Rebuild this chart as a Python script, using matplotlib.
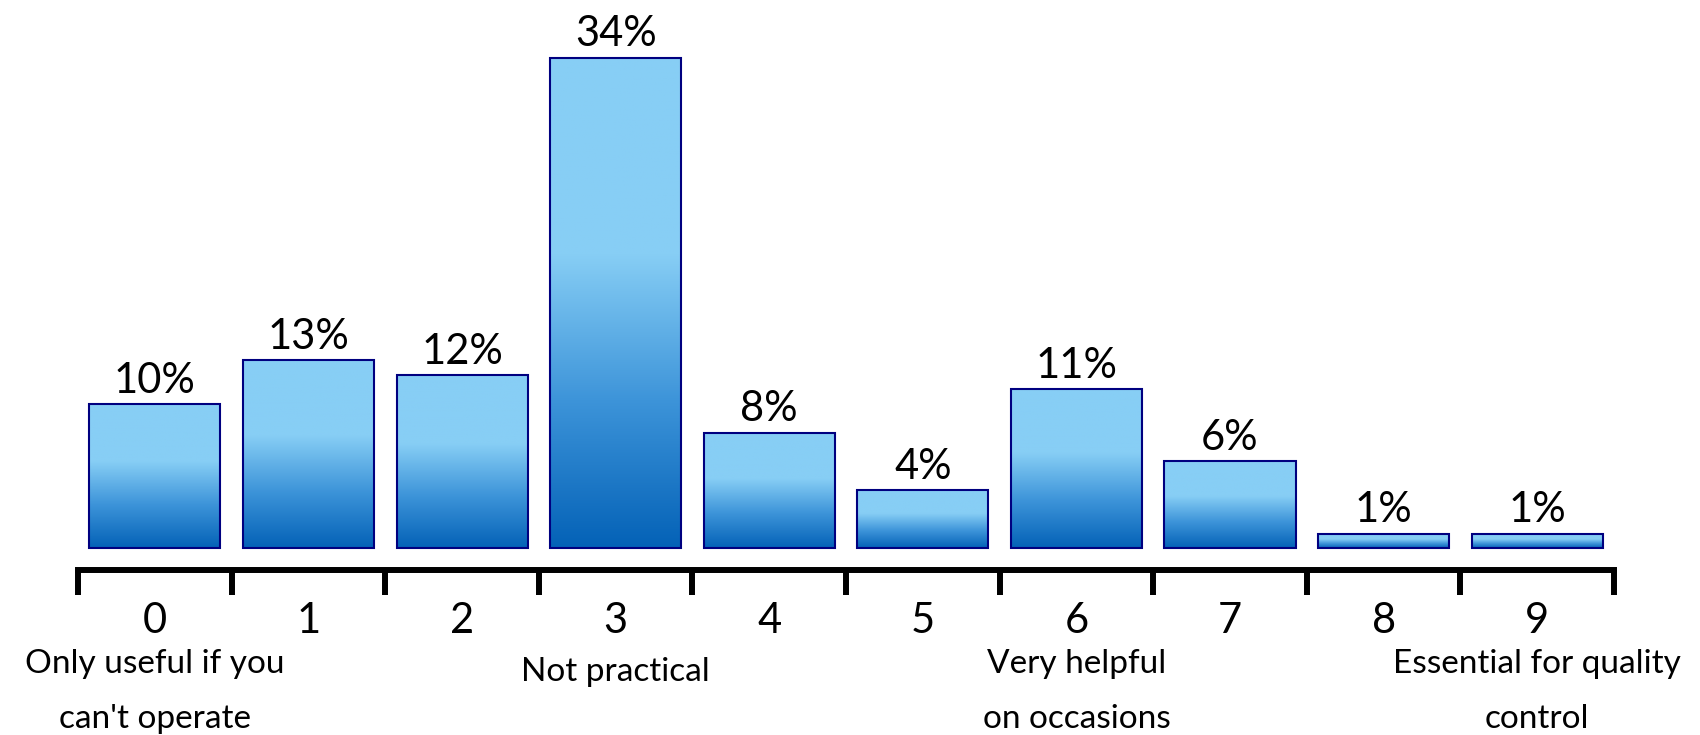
import numpy as np
import matplotlib.pyplot as plt
from matplotlib import transforms
from matplotlib.colors import LinearSegmentedColormap

plt.rcParams['font.family'] = ['Lato', 'DejaVu Sans']

# data
categories = ['0', '1', '2', '3', '4', '5', '6', '7', '8', '9']
shares = [10, 13, 12, 34, 8, 4, 11, 6, 1, 1]
pct_labels = [f"{v}%" for v in shares]

# scale descriptions shown under some of the categories
desc_index = [0, 3, 6, 9]
desc_lines = [
    ["Only useful if you", "can't operate"],
    ["Not practical"],
    ["Very helpful", "on occasions"],
    ["Essential for quality", "control"],
]

fig = plt.figure(figsize=(17, 7.35), dpi=100)
ax = fig.add_axes([0.0459, 0.2245, 0.9035, 0.7483])

x = np.arange(len(categories))
bars = ax.bar(x, shares, width=0.853, facecolor='none', edgecolor='#000080',
              linewidth=1.5, zorder=3)

# vertical gradient fill, dark at the bottom of each bar
cmap = LinearSegmentedColormap.from_list(
    'bar_grad', [(0, '#0462b7'), (0.3, '#3d94d9'), (0.6, '#87cef5'), (1, '#87cef5')])
grad = np.linspace(0, 1, 256).reshape(-1, 1)
for p in bars.patches:
    ax.imshow(grad, cmap=cmap, origin='lower', aspect='auto', zorder=2,
              extent=(p.get_x(), p.get_x() + p.get_width(),
                      p.get_y(), p.get_y() + p.get_height()))

ax.bar_label(bars, labels=pct_labels, padding=3, fontsize=30)

ax.set_xlim(-0.5, 9.5)
ax.set_ylim(-1.52, 36.6)

for side in ['left', 'top', 'right']:
    ax.spines[side].set_visible(False)
ax.spines['bottom'].set_linewidth(4.3)
ax.spines['bottom'].set_color('black')

# category numbers as major ticks, boundaries as minor ticks
ax.set_xticks(x)
ax.set_xticklabels(categories)
ax.set_xticks(np.arange(-0.5, 10, 1), minor=True)
ax.tick_params(axis='x', which='major', length=0, pad=23, labelsize=30)
ax.tick_params(axis='x', which='minor', length=18, width=4.3, color='black')
ax.tick_params(axis='y', left=False, labelleft=False)

trans = transforms.blended_transform_factory(ax.transData, ax.transAxes)
line_y = [[-0.187, -0.287], [-0.202], [-0.187, -0.287], [-0.187, -0.287]]
for idx, lines, ys in zip(desc_index, desc_lines, line_y):
    for txt, y in zip(lines, ys):
        ax.text(idx, y, txt, transform=trans, ha='center', va='baseline', fontsize=24)

fig.savefig('out.png', dpi=100)
